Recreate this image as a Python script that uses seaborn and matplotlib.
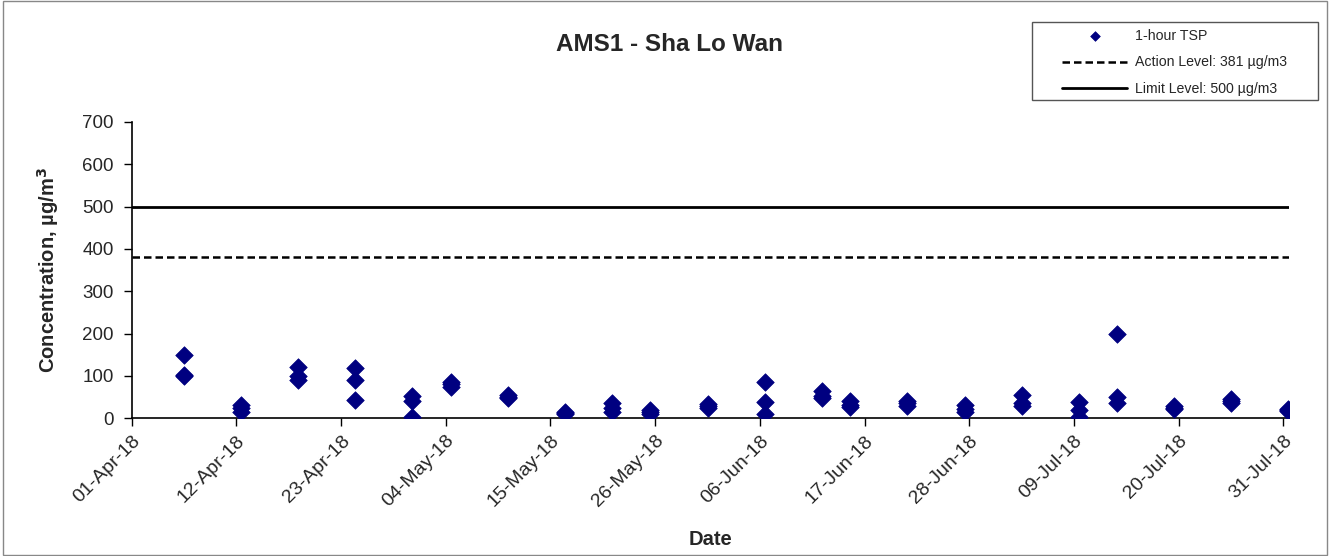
import matplotlib
matplotlib.use("Agg")
import matplotlib.pyplot as plt
import matplotlib.dates as mdates
import numpy as np
import pandas as pd
import seaborn as sns

# sampling days, three 1-hour TSP readings each (ug/m3)
SAMPLE_DATES = [
    "2018-04-06", "2018-04-12", "2018-04-18", "2018-04-24", "2018-04-30",
    "2018-05-04", "2018-05-10", "2018-05-16", "2018-05-21", "2018-05-25",
    "2018-05-31", "2018-06-06", "2018-06-12", "2018-06-15", "2018-06-21",
    "2018-06-27", "2018-07-03", "2018-07-09", "2018-07-13", "2018-07-19",
    "2018-07-25", "2018-07-31",
]
READING_1 = [150, 32, 122, 119, 52, 85, 55, 16, 36, 20, 33, 85, 65, 40, 42, 32, 55, 38, 198, 30, 46, 22]
READING_2 = [100, 24, 100, 90, 42, 80, 50, 13, 25, 14, 28, 38, 52, 32, 35, 22, 35, 20, 51, 25, 40, 20]
READING_3 = [102, 16, 90, 43, 2, 75, 48, 11, 15, 10, 24, 9, 48, 27, 30, 15, 28, 4, 37, 22, 37, 18]

ACTION_LEVEL = 381
LIMIT_LEVEL = 500
TICK_START = "2018-04-01"
TICK_END = "2018-07-31"
TICK_STEP_DAYS = 11


def build_frame():
    dates = pd.to_datetime(SAMPLE_DATES) + pd.Timedelta(hours=12)
    frames = []
    for vals in (READING_1, READING_2, READING_3):
        frames.append(pd.DataFrame({"Date": dates, "TSP": vals}))
    return pd.concat(frames, ignore_index=True)


def main():
    df = build_frame()
    sns.set_style("white")
    plt.rcParams["font.family"] = ["Liberation Sans", "DejaVu Sans"]

    W, H = 1330, 556
    fig = plt.figure(figsize=(W / 100, H / 100), dpi=100)
    ax = fig.add_axes([131.7 / W, 1 - 418.3 / H, (1288.5 - 131.7) / W, (418.3 - 122) / H])

    start = pd.Timestamp(TICK_START)
    end = pd.Timestamp(TICK_END)

    sns.scatterplot(data=df, x="Date", y="TSP", ax=ax, marker="D", s=80,
                    color="#000080", edgecolor="#000080", linewidth=0.5,
                    label="1-hour TSP", zorder=3)
    ax.axhline(ACTION_LEVEL, color="black", linestyle=(0, (3, 1.6)), linewidth=1.8,
               label=f"Action Level: {ACTION_LEVEL} µg/m3")
    ax.axhline(LIMIT_LEVEL, color="black", linestyle="-", linewidth=2,
               label=f"Limit Level: {LIMIT_LEVEL} µg/m3")

    ticks = pd.date_range(start, end, freq=f"{TICK_STEP_DAYS}D")
    ax.set_xticks(ticks)
    ax.xaxis.set_major_formatter(mdates.DateFormatter("%d-%b-%y"))
    ax.set_xlim(start, end + pd.Timedelta(hours=13))
    ax.set_ylim(0, 700)
    ax.set_yticks(np.arange(0, 701, 100))

    for lbl in ax.get_xticklabels():
        lbl.set_rotation(45)
        lbl.set_ha("right")
        lbl.set_rotation_mode("anchor")
    ax.tick_params(axis="x", labelsize=14, direction="out", length=6,
                   width=1, color="black", bottom=True, pad=4)
    ax.tick_params(axis="y", labelsize=13.5, direction="out", length=6,
                   width=1, color="black", left=True, pad=7)

    for side in ["top", "right"]:
        ax.spines[side].set_visible(False)
    for side in ["left", "bottom"]:
        ax.spines[side].set_color("black")
        ax.spines[side].set_linewidth(1.2)

    ax.set_xlabel("Date", fontsize=14.5, fontweight="bold", labelpad=14)
    ax.set_ylabel("Concentration, µg/m$^\\mathbf{3}$", fontsize=14.5, fontweight="bold", labelpad=15)
    fig.text(669 / W, 1 - 45 / H, "AMS1 - Sha Lo Wan", ha="center", va="center",
             fontsize=17.5, fontweight="bold")

    leg = ax.legend(loc="upper left", bbox_to_anchor=(1062 / W, 1 - 29 / H),
                    bbox_transform=fig.transFigure, frameon=False,
                    fontsize=10.2, handlelength=4.6, handletextpad=0.55,
                    markerscale=0.55, borderpad=0, borderaxespad=0,
                    labelspacing=0.88)

    fig.patches.append(plt.Rectangle((1032 / W, 1 - 100 / H), 286 / W, 78 / H,
                                     transform=fig.transFigure, fill=False,
                                     edgecolor="#555555", linewidth=1))
    fig.patches.append(plt.Rectangle((0.002, 0.002), 0.996, 0.996, transform=fig.transFigure,
                                     fill=False, edgecolor="#888888", linewidth=1))

    fig.savefig("out.png", dpi=100)
    plt.close(fig)


if __name__ == "__main__":
    main()
